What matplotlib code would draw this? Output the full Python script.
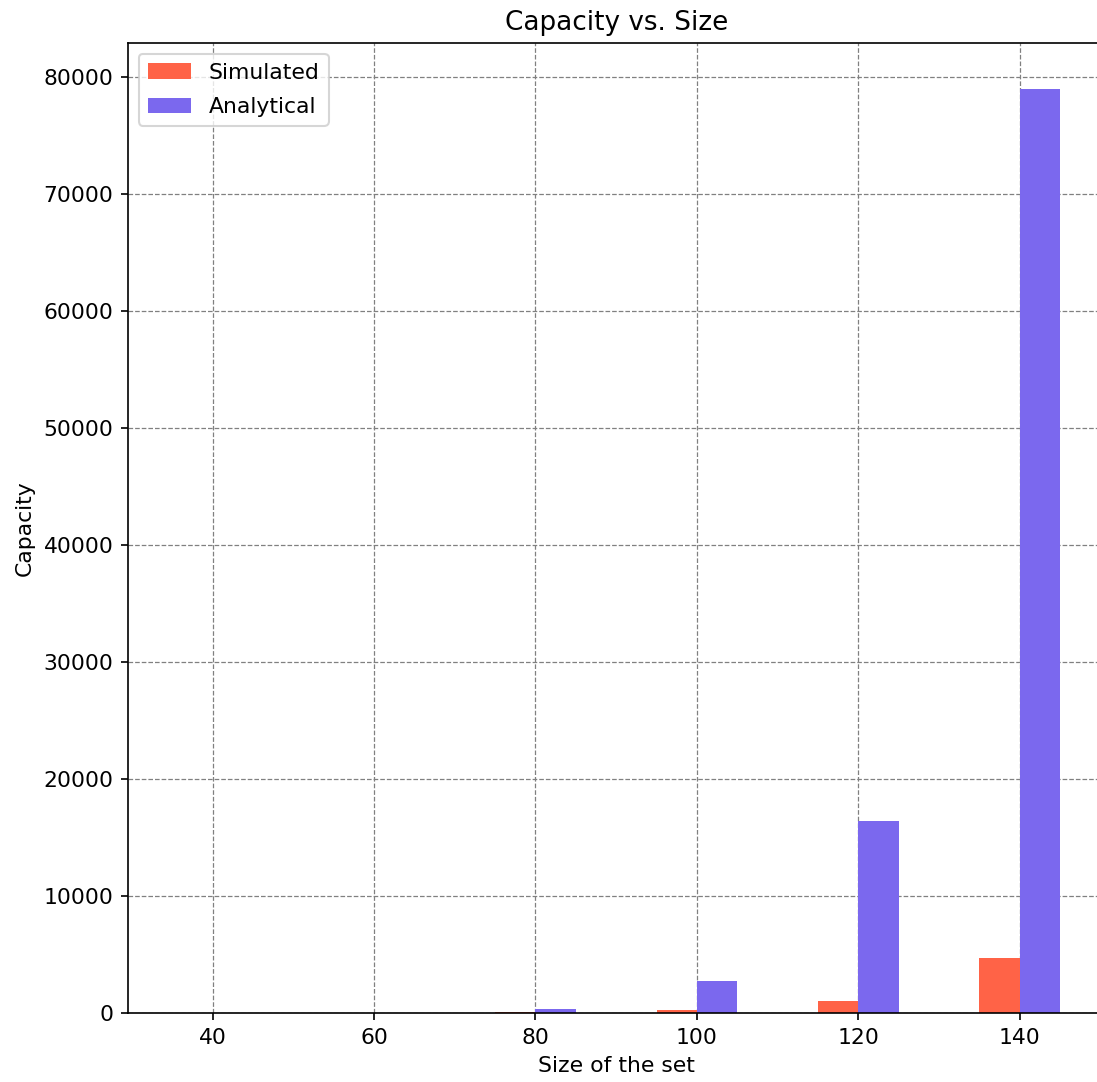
import matplotlib
matplotlib.use("Agg")
import matplotlib.pyplot as plt
import numpy as np

sizes = [40, 60, 80, 100, 120, 140]
simulated = [2, 10, 60, 260, 1025, 4700]
analytical = [5, 40, 330, 2735, 16420, 79000]

plt.rcParams['font.size'] = 10.5

fig = plt.figure(figsize=(1097 / 150, 1082 / 150), dpi=150)
ax = fig.add_axes([0.1167, 0.0638, 0.89, 0.8965])

x = np.array(sizes)
ax.bar(x - 2.5, simulated, width=5, color='tomato', label='Simulated')
ax.bar(x + 2.5, analytical, width=5, color='mediumslateblue', label='Analytical')

ax.set_xticks(sizes)
ax.set_xlim(29.5, 150.5)
ax.set_xlabel("Size of the set")
ax.set_ylabel("Capacity")
ax.set_title("Capacity vs. Size", fontsize=12.6)
ax.grid(True, linestyle='--', color='gray', linewidth=0.6)
ax.set_axisbelow(True)
ax.legend(loc='upper left', labelspacing=0.65)

fig.savefig("out.png", dpi=150)
